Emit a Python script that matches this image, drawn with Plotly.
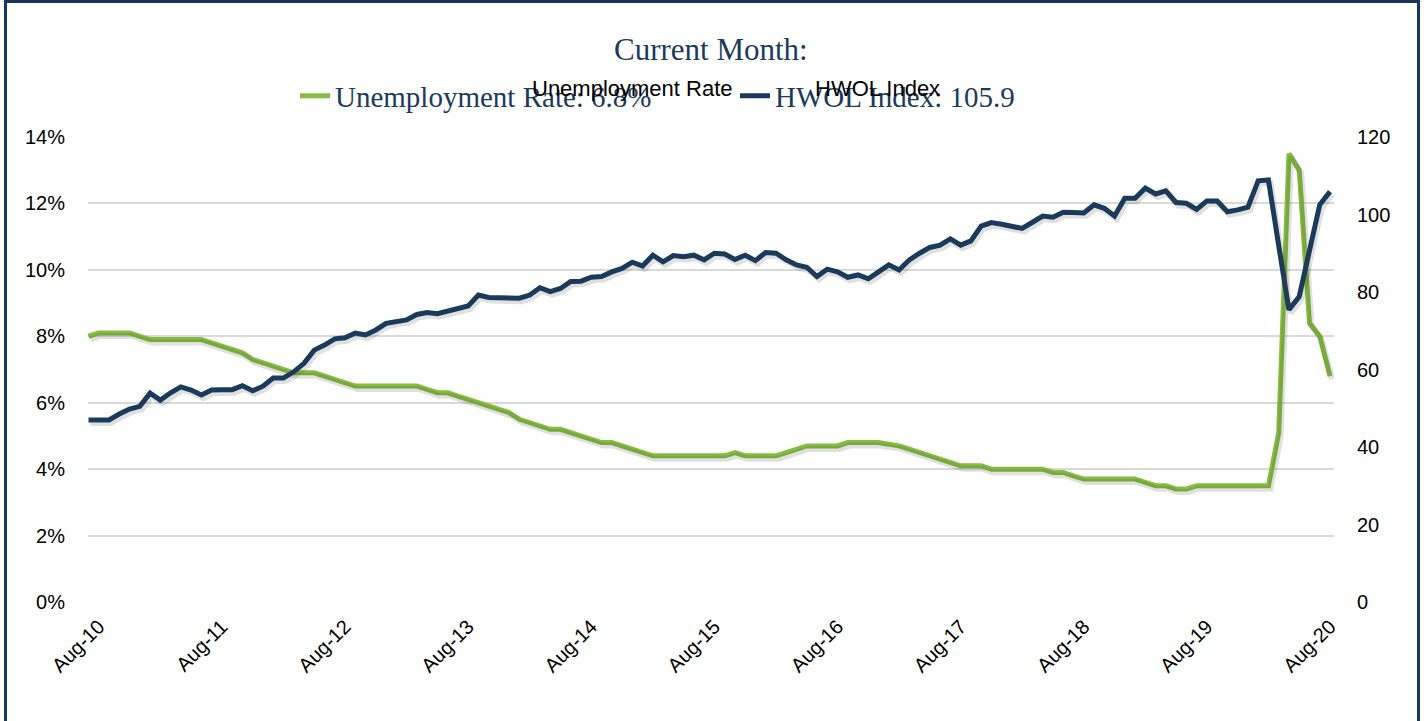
import pandas as pd
import plotly.graph_objects as go

# Monthly categories Jul-10 .. Aug-20
months = [d.strftime("%b-%y") for d in pd.date_range("2010-07-01", "2020-08-01", freq="MS")]
tick_labels = ["Aug-%02d" % y for y in range(10, 21)]

unemployment = [
    8.0, 8.1, 8.1, 8.1, 8.1, 8.0, 7.9, 7.9, 7.9, 7.9, 7.9, 7.9,
    7.8, 7.7, 7.6, 7.5, 7.3, 7.2, 7.1, 7.0, 6.9, 6.9, 6.9, 6.8,
    6.7, 6.6, 6.5, 6.5, 6.5, 6.5, 6.5, 6.5, 6.5, 6.4, 6.3, 6.3,
    6.2, 6.1, 6.0, 5.9, 5.8, 5.7, 5.5, 5.4, 5.3, 5.2, 5.2, 5.1,
    5.0, 4.9, 4.8, 4.8, 4.7, 4.6, 4.5, 4.4, 4.4, 4.4, 4.4, 4.4,
    4.4, 4.4, 4.4, 4.5, 4.4, 4.4, 4.4, 4.4, 4.5, 4.6, 4.7, 4.7,
    4.7, 4.7, 4.8, 4.8, 4.8, 4.8, 4.75, 4.7, 4.6, 4.5, 4.4, 4.3,
    4.2, 4.1, 4.1, 4.1, 4.0, 4.0, 4.0, 4.0, 4.0, 4.0, 3.9, 3.9,
    3.8, 3.7, 3.7, 3.7, 3.7, 3.7, 3.7, 3.6, 3.5, 3.5, 3.4, 3.4,
    3.5, 3.5, 3.5, 3.5, 3.5, 3.5, 3.5, 3.5, 5.1, 13.5, 13.0, 8.4,
    8.0, 6.8,
]

hwol = [
    47.0, 47.0, 47.0, 48.5, 49.8, 50.5, 53.9, 52.1, 54.0, 55.5, 54.7, 53.4,
    54.7, 54.8, 54.8, 55.8, 54.5, 55.7, 57.8, 57.8, 59.4, 61.6, 65.0, 66.3,
    67.9, 68.2, 69.4, 68.9, 70.2, 71.9, 72.5, 72.8, 74.2, 74.7, 74.4, 75.1,
    75.6, 76.4, 79.2, 78.6, 78.5, 78.4, 78.4, 79.2, 81.1, 80.1, 80.9, 82.7,
    82.8, 83.8, 84.0, 85.2, 86.1, 87.7, 86.7, 89.5, 87.8, 89.4, 89.1, 89.5,
    88.3, 90.0, 89.8, 88.4, 89.5, 88.1, 90.2, 90.0, 88.3, 87.0, 86.4, 84.0,
    85.9, 85.2, 83.8, 84.4, 83.4, 85.2, 87.0, 85.7, 88.3, 90.0, 91.5, 92.1,
    93.7, 92.1, 93.2, 97.0, 97.9, 97.5, 97.0, 96.4, 98.0, 99.6, 99.3, 100.6,
    100.5, 100.4, 102.5, 101.6, 99.6, 104.2, 104.2, 106.8, 105.3, 106.1, 103.1, 102.9,
    101.3, 103.5, 103.5, 100.7, 101.2, 101.9, 108.7, 108.9, 92.0, 75.4, 78.8, 90.7,
    102.5, 105.9,
]

GREEN = "#84BD3F"
NAVY = "#173A5E"
TEXT_NAVY = "#1B3A5C"
SHADOW = "rgba(60,60,60,0.16)"

# layout geometry (pixels)
W, H = 1424, 721
L, R, T, B = 88, 90, 137, 119
PW = W - L - R
PH = H - T - B

X_RANGE = [-0.05, 121.39]
Y1_RANGE = [0, 14]
Y2_RANGE = [0, 120]
SH_DX, SH_DY = 2, 3  # shadow offset in pixels (right, down)


def px(xp):
    return (xp - L) / PW


def py(yp):
    return (H - B - yp) / PH


def shifted(rng, shift_px, length_px, sign):
    span = rng[1] - rng[0]
    d = sign * shift_px * span / length_px
    return [rng[0] + d, rng[1] + d]


fig = go.Figure()
# soft shadows (same data drawn through shifted copies of the axes)
fig.add_trace(go.Scatter(
    x=months, y=unemployment, mode="lines", showlegend=False, hoverinfo="skip",
    line=dict(color=SHADOW, width=6), xaxis="x2", yaxis="y3"))
fig.add_trace(go.Scatter(
    x=months, y=hwol, mode="lines", showlegend=False, hoverinfo="skip",
    line=dict(color=SHADOW, width=6), xaxis="x2", yaxis="y4"))
# main series
fig.add_trace(go.Scatter(
    x=months, y=unemployment, name="Unemployment Rate: 6.8%", mode="lines",
    line=dict(color=GREEN, width=5), yaxis="y"))
fig.add_trace(go.Scatter(
    x=months, y=hwol, name="HWOL Index: 105.9", mode="lines",
    line=dict(color=NAVY, width=5), yaxis="y2"))

tickfont = dict(family="Liberation Sans", size=20, color="#000")
hidden = dict(visible=False, showgrid=False, zeroline=False, automargin=False)

fig.update_layout(
    width=W, height=H,
    margin=dict(l=L, r=R, t=T, b=B, autoexpand=False),
    paper_bgcolor="white", plot_bgcolor="white",
    showlegend=True,
    legend=dict(
        orientation="h", x=px(295), xanchor="left", y=py(96), yanchor="middle",
        font=dict(family="Liberation Serif", size=29, color=TEXT_NAVY),
        entrywidth=395, entrywidthmode="pixels", itemwidth=30,
        bgcolor="rgba(0,0,0,0)", traceorder="normal",
    ),
    xaxis=dict(
        type="category", range=X_RANGE,
        tickmode="array", tickvals=tick_labels, ticktext=tick_labels,
        tickangle=-45, tickfont=tickfont, ticklabelstandoff=8,
        showgrid=False, showline=False, zeroline=False, ticks="", automargin=False,
    ),
    xaxis2=dict(type="category", overlaying="x",
                range=shifted(X_RANGE, SH_DX, PW, -1), **hidden),
    yaxis=dict(
        range=Y1_RANGE, dtick=2, ticksuffix="%",
        gridcolor="#D9D9D9", gridwidth=1.5, zeroline=False, showline=False,
        tickfont=tickfont, ticklabelstandoff=22, automargin=False,
    ),
    yaxis2=dict(
        range=Y2_RANGE, dtick=20, overlaying="y", side="right",
        showgrid=False, zeroline=False, showline=False,
        tickfont=tickfont, ticklabelstandoff=22, automargin=False,
    ),
    yaxis3=dict(overlaying="y", range=shifted(Y1_RANGE, SH_DY, PH, 1), **hidden),
    yaxis4=dict(overlaying="y", range=shifted(Y2_RANGE, SH_DY, PH, 1), **hidden),
    annotations=[
        dict(text="Current Month:", xref="paper", yref="paper", x=px(711), y=py(49),
             xanchor="center", yanchor="middle", showarrow=False,
             font=dict(family="Liberation Serif", size=31, color=TEXT_NAVY)),
        dict(text="Unemployment Rate", xref="paper", yref="paper", x=px(632), y=py(89),
             xanchor="center", yanchor="middle", showarrow=False,
             font=dict(family="Liberation Sans", size=22, color="#000")),
        dict(text="HWOL Index", xref="paper", yref="paper", x=px(877), y=py(89),
             xanchor="center", yanchor="middle", showarrow=False,
             font=dict(family="Liberation Sans", size=22, color="#000")),
    ],
    shapes=[
        dict(type="rect", xref="paper", yref="paper",
             x0=px(5.5), x1=px(1418.5), y0=py(740), y1=py(1.5),
             line=dict(color="#17355A", width=3), fillcolor="rgba(0,0,0,0)", layer="above"),
    ],
)

fig.write_html(
    "out.html",
    config={"displayModeBar": False},
    post_script="document.body.style.margin='0';document.body.style.padding='0';",
)
